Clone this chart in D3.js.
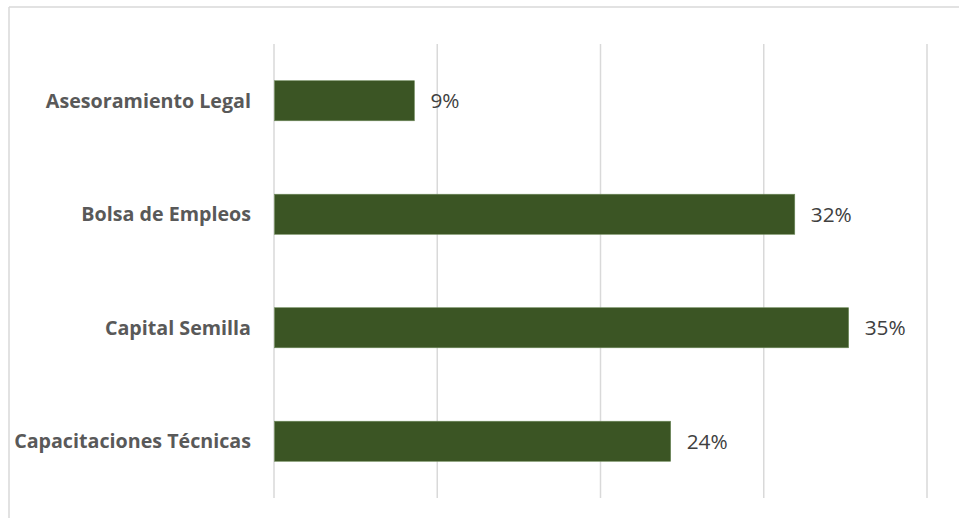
<!DOCTYPE html>
<html><head><meta charset="utf-8">
<script src="https://cdn.jsdelivr.net/npm/d3@7"></script>
<style>body{margin:0;background:#fff;}svg{display:block;}</style>
</head><body>
<svg id="c" width="959" height="518"></svg>
<script>
const categories = ["Asesoramiento Legal","Bolsa de Empleos","Capital Semilla","Capacitaciones Técnicas"];
const values = [8.6, 31.9, 35.2, 24.3];
const valueLabels = ["9%","32%","35%","24%"];
const xTicks = [0,10,20,30,40];

const svg = d3.select("#c");
const m = {left:274, right:959-927, top:44, bottom:518-498};
const W = 959, H = 518;
svg.append("line").attr("x1",9).attr("x2",959).attr("y1",7).attr("y2",7).attr("stroke","#d9d9d9").attr("stroke-width",1.5);
svg.append("line").attr("x1",9).attr("x2",9).attr("y1",7).attr("y2",518).attr("stroke","#d9d9d9").attr("stroke-width",1.5);

const x = d3.scaleLinear().domain([0,40]).range([m.left, W-m.right]);
const y = d3.scaleBand().domain(categories).range([m.top, H-m.bottom]).paddingInner(0.647).paddingOuter(0.3235);

svg.append("g").selectAll("line").data(xTicks).join("line")
  .attr("x1",d=>x(d)).attr("x2",d=>x(d)).attr("y1",m.top).attr("y2",H-m.bottom)
  .attr("stroke","#d9d9d9").attr("stroke-width",1.5);

svg.append("g").selectAll("rect").data(values).join("rect")
  .attr("x",x(0)+0.5).attr("y",(d,i)=>y(categories[i]))
  .attr("width",d=>x(d)-x(0)-0.5).attr("height",y.bandwidth())
  .attr("fill","#3b5524").attr("stroke","#6e8a5a").attr("stroke-width",0.6);

const vl = svg.append("g").selectAll("text").data(values).join("text")
  .attr("x",d=>x(d)+16).attr("y",(d,i)=>y(categories[i])+y.bandwidth()/2)
  .attr("dy","0.36em").attr("font-family","'Open Sans', sans-serif").attr("font-size",20)
  .attr("fill","#404040").text((d,i)=>valueLabels[i]);
vl.each(function(d,i){ if(i===1){ const w=this.getComputedTextLength(); const fs=20*41/w; vl.attr("font-size",fs);} });

const yAxis = d3.axisLeft(y).tickSize(0).tickPadding(23);
const ga = svg.append("g").attr("transform",`translate(${m.left},0)`).call(yAxis);
ga.select(".domain").remove();
const ct = ga.selectAll("text").attr("font-family","'Open Sans', sans-serif").attr("font-size",18)
  .attr("font-weight","bold").attr("fill","#595959").attr("dy","0.36em");
ct.each(function(d,i){ if(i===3){ const w=this.getComputedTextLength(); ct.attr("font-size",18*237/w);} });
</script>
</body></html>
